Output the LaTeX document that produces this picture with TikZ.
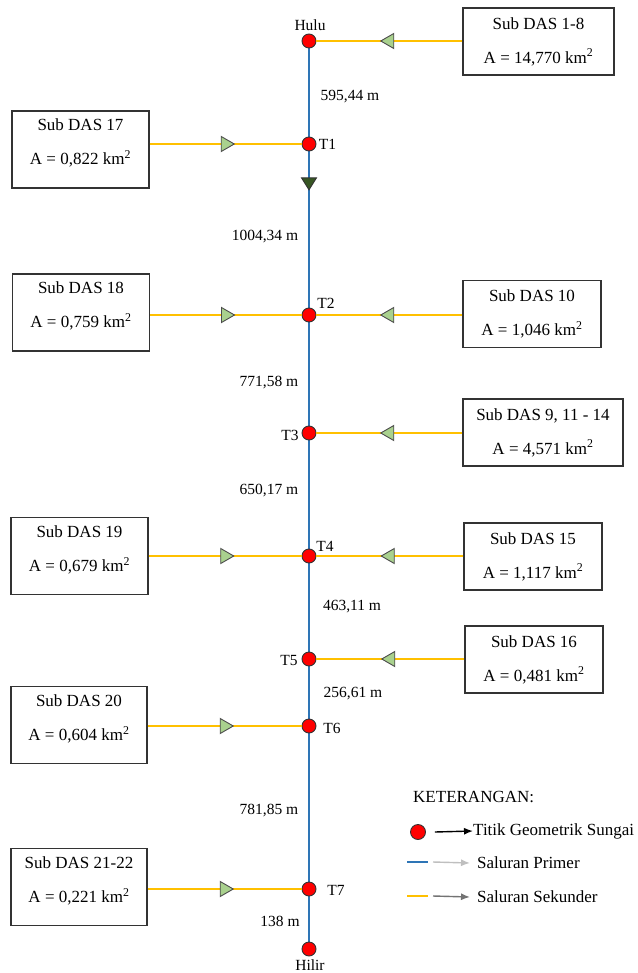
\documentclass[tikz,border=0pt]{standalone}
\usepackage{fontspec}
\setmainfont{Liberation Serif}
\usetikzlibrary{shapes.geometric,arrows.meta,backgrounds}
\newcommand{\kmsq}{km\textsuperscript{2}}
\newcommand{\lowpad}{\rule[-15pt]{0pt}{15pt}}
\definecolor{primer}{HTML}{2E75B6}
\definecolor{sekunder}{HTML}{FFC000}
\definecolor{hijau}{HTML}{A9D18E}
\definecolor{hijautua}{HTML}{375623}

\tikzset{
  titik/.style={circle,draw=black!80,fill=red,line width=0.9pt,minimum size=14pt,inner sep=0pt},
  subdas/.style={draw=black!80,line width=1.2pt,align=center,font=\fontsize{17}{34}\selectfont,
    minimum width=138pt,minimum height=67pt,inner sep=0pt},
  subdaskiri/.style={subdas,minimum width=137pt,minimum height=77pt},
  aliran/.style={isosceles triangle,isosceles triangle stretches,draw=black!70,fill=hijau,
    line width=0.9pt,minimum width=15pt,minimum height=13pt,inner sep=0pt},
  alirankiri/.style={aliran,shape border rotate=180},
  arahutama/.style={isosceles triangle,isosceles triangle stretches,draw=black!80,fill=hijautua,
    line width=0.9pt,shape border rotate=-90,minimum width=15pt,minimum height=12pt,inner sep=0pt},
  utama/.style={primer,line width=2.4pt},
  cabang/.style={sekunder,line width=2.4pt},
  lbl/.style={font=\fontsize{15.5}{18}\selectfont,inner sep=0pt},
  ket/.style={font=\fontsize{17}{20}\selectfont,inner sep=0pt,anchor=west},
  panahket/.style={-{Latex[length=9pt,width=7pt]},line width=1.4pt}
}

\begin{document}
\begin{tikzpicture}[x=1pt,y=-1pt]
  \useasboundingbox (0,0) rectangle (637,973);
  % titik sungai
  \node[titik] (hulu) at (309,41) {};
  \node[titik] (t1) at (309,144) {};
  \node[titik] (t2) at (309,315) {};
  \node[titik] (t3) at (309,433) {};
  \node[titik] (t4) at (309,556) {};
  \node[titik] (t5) at (309,659) {};
  \node[titik] (t6) at (309,726) {};
  \node[titik] (t7) at (309,889) {};
  \node[titik] (hilir) at (309,949) {};
  \coordinate (t3b) at (309,486);
  % sub das
  \node[subdas,minimum width=151pt] (das1) at (538.5,41.5) {Sub DAS 1-8\\A = 14,770 \kmsq};
  \node[subdaskiri] (das17) at (80.5,149.5) {Sub DAS 17\\A = 0,822 \kmsq\lowpad};
  \node[subdaskiri] (das18) at (81,312.5) {Sub DAS 18\\A = 0,759 \kmsq\lowpad};
  \node[subdas] (das10) at (532,314) {Sub DAS 10\\A = 1,046 \kmsq};
  \node[subdas,minimum width=160pt] (das9) at (543,432.5) {Sub DAS 9, 11 - 14\\A = 4,571 \kmsq};
  \node[subdaskiri] (das19) at (79.5,556) {Sub DAS 19\\A = 0,679 \kmsq\lowpad};
  \node[subdas] (das15) at (533,556.5) {Sub DAS 15\\A = 1,117 \kmsq};
  \node[subdas] (das16) at (534,659.5) {Sub DAS 16\\A = 0,481 \kmsq};
  \node[subdaskiri,minimum width=136pt] (das20) at (79,725) {Sub DAS 20\\A = 0,604 \kmsq\lowpad};
  \node[subdaskiri,minimum width=136pt] (das21) at (79,887) {Sub DAS 21-22\\A = 0,221 \kmsq\lowpad};
  \begin{scope}[on background layer]
    \draw[utama] (hulu) -- (t1) -- (t2) -- (t3);
    \draw[primer,line width=1.3pt] (t3) -- (t3b);
    \draw[utama] (t3b) -- (t4) -- (t5) -- (t6) -- (t7) -- (hilir);
  \end{scope}
  \node[arahutama] (arah) at (309,182) {};
  % saluran sekunder
  \draw[cabang] (hulu -| das1.west) -- node[alirankiri] {} (hulu);
  \draw[cabang] (t1 -| das17.east) -- node[aliran] {} (t1);
  \draw[cabang] (t2 -| das18.east) -- node[aliran] {} (t2);
  \draw[cabang] (t2 -| das10.west) -- node[alirankiri] {} (t2);
  \draw[cabang] (t3 -| das9.west) -- node[alirankiri] {} (t3);
  \draw[cabang] (t4 -| das19.east) -- node[aliran] {} (t4);
  \draw[cabang] (t4 -| das15.west) -- node[alirankiri] {} (t4);
  \draw[cabang] (t5 -| das16.west) -- node[alirankiri] {} (t5);
  \draw[cabang] (t6 -| das20.east) -- node[aliran] {} (t6);
  \draw[cabang] (t7 -| das21.east) -- node[aliran] {} (t7);
  % nama titik
  \node[lbl] (lhulu) at (310,25) {Hulu};
  \node[lbl] (lt1) at (327.5,144) {T1};
  \node[lbl] (lt2) at (326,303) {T2};
  \node[lbl] (lt3) at (290,435) {T3};
  \node[lbl] (lt4) at (325,546) {T4};
  \node[lbl] (lt5) at (289,660) {T5};
  \node[lbl] (lt6) at (332,728) {T6};
  \node[lbl] (lt7) at (336,890) {T7};
  \node[lbl] (lhilir) at (310,965) {Hilir};
  % panjang saluran
  \node[lbl] (p1) at (350,97) {595,44 m};
  \node[lbl] (p2) at (265,237) {1004,34 m};
  \node[lbl] (p3) at (269,383) {771,58 m};
  \node[lbl] (p4) at (269,491) {650,17 m};
  \node[lbl] (p5) at (352,607) {463,11 m};
  \node[lbl] (p6) at (353,694) {256,61 m};
  \node[lbl] (p7) at (269,811) {781,85 m};
  \node[lbl] (p8) at (280,921) {138 m};
  % keterangan
  \node[ket] (ketjudul) at (413,797) {KETERANGAN:};
  \node[titik,minimum size=15pt] (kt1) at (418,832) {};
  \node[ket] (kt1txt) at (473,831) {Titik Geometrik Sungai};
  \draw[panahket,black] ([xshift=9pt]kt1.east) -- (kt1txt.west);
  \coordinate (kp1) at (407,862);
  \coordinate (kp2) at (428,862);
  \node[ket] (kp2txt) at (477,863) {Saluran Primer};
  \draw[utama] (kp1) -- (kp2);
  \draw[panahket,black!25] ([xshift=5pt]kp2) -- ([xshift=-7pt]kp2txt.west);
  \coordinate (ks1) at (407,896);
  \coordinate (ks2) at (428,896);
  \node[ket] (ks2txt) at (477,897) {Saluran Sekunder};
  \draw[cabang] (ks1) -- (ks2);
  \draw[panahket,black!55] ([xshift=5pt]ks2) -- ([xshift=-7pt]ks2txt.west);
\end{tikzpicture}
\end{document}
